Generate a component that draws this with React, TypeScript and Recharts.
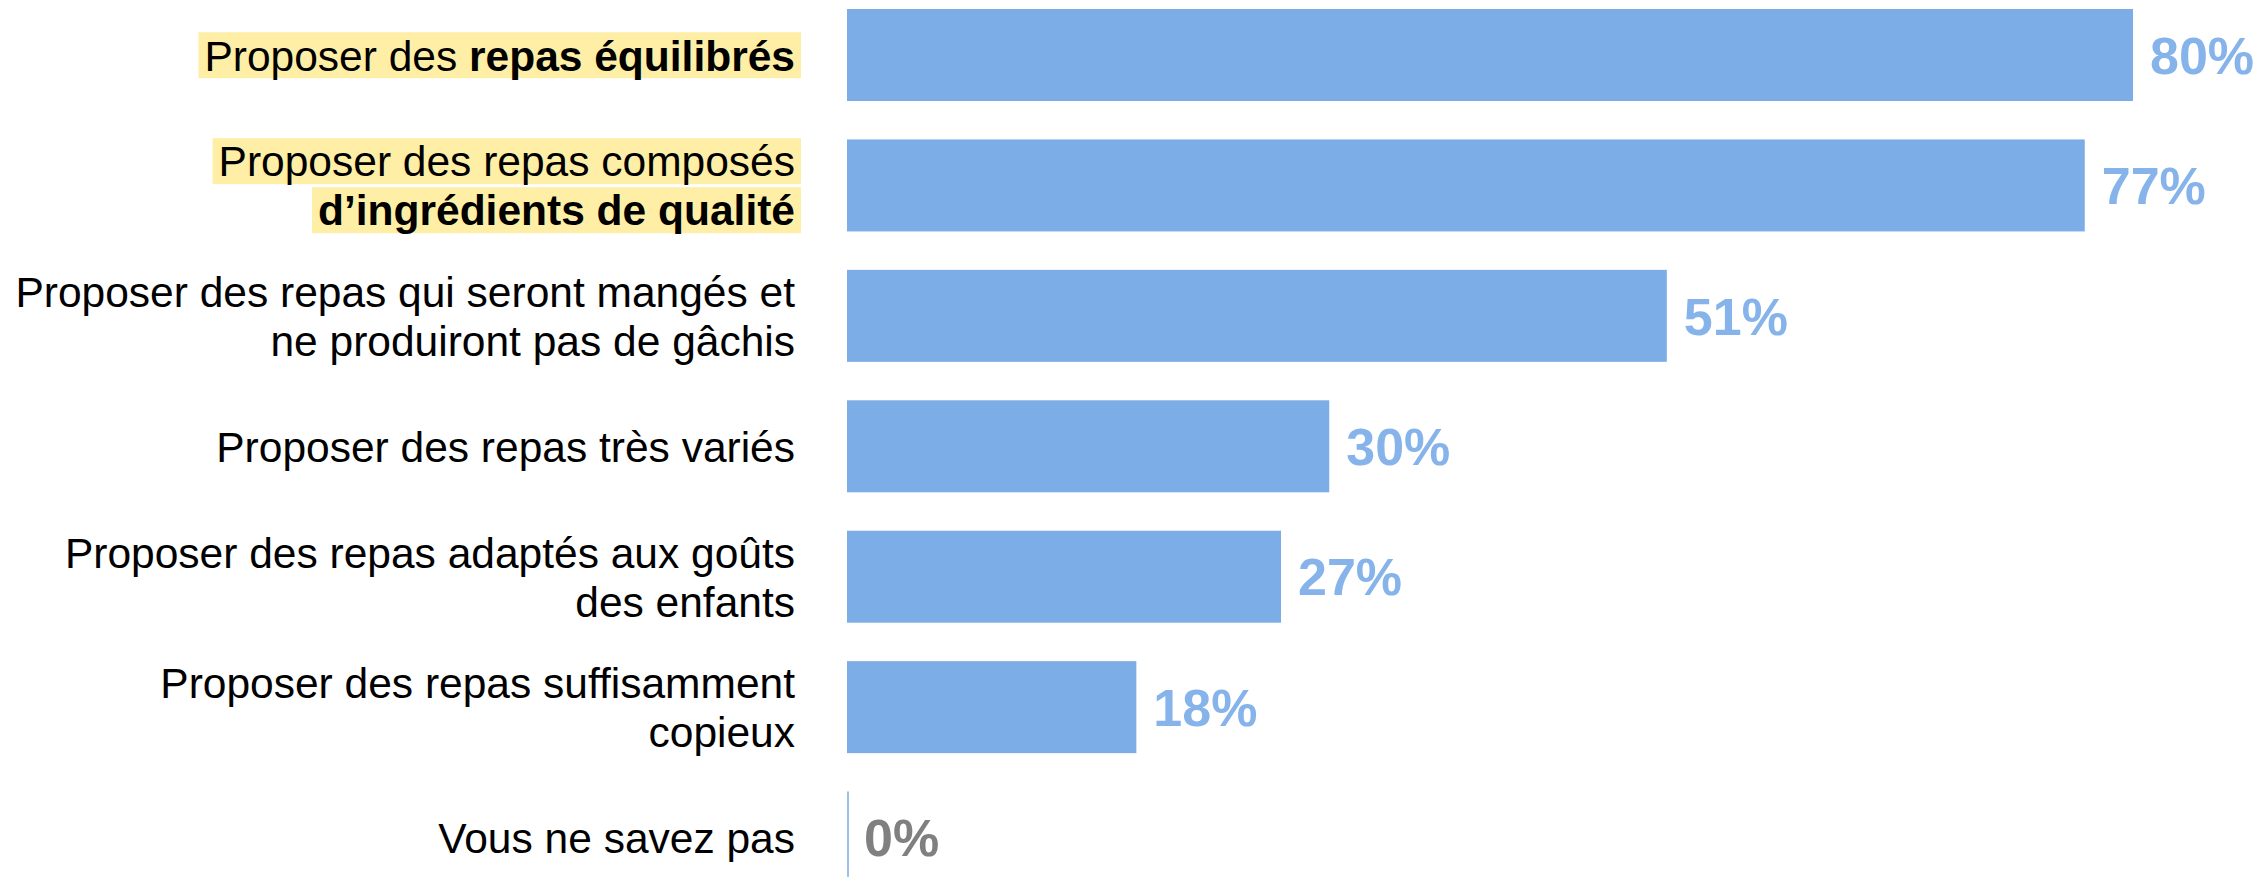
import React from "react";
import { BarChart, Bar, XAxis, YAxis, LabelList } from "recharts";

// categories, top to bottom
const categories = [
  "Proposer des repas équilibrés",
  "Proposer des repas composés d’ingrédients de qualité",
  "Proposer des repas qui seront mangés et ne produiront pas de gâchis",
  "Proposer des repas très variés",
  "Proposer des repas adaptés aux goûts des enfants",
  "Proposer des repas suffisamment copieux",
  "Vous ne savez pas",
];

const values = [80, 77, 51, 30, 27, 18, 0];

// tick label lines: [text, bold] segments per line
const tickLines: [string, boolean][][][] = [
  [[["Proposer des ", false], ["repas équilibrés", true]]],
  [
    [["Proposer des repas composés", false]],
    [["d’ingrédients de qualité", true]],
  ],
  [
    [["Proposer des repas qui seront mangés et", false]],
    [["ne produiront pas de gâchis", false]],
  ],
  [[["Proposer des repas très variés", false]]],
  [
    [["Proposer des repas adaptés aux goûts", false]],
    [["des enfants", false]],
  ],
  [
    [["Proposer des repas suffisamment", false]],
    [["copieux", false]],
  ],
  [[["Vous ne savez pas", false]]],
];

const highlighted = [true, true, false, false, false, false, false];

const data = categories.map((name, i) => ({ name, value: values[i] }));

const FONT = '"Liberation Sans", Arial, sans-serif';
const TICK_SIZE = 42.5;
const BAR_COLOR = "#7DADE6";

let ctx: CanvasRenderingContext2D | null = null;
function measure(text: string, bold: boolean) {
  if (!ctx) ctx = document.createElement("canvas").getContext("2d");
  if (!ctx) return text.length * TICK_SIZE * 0.5;
  ctx.font = `${bold ? "bold" : "normal"} ${TICK_SIZE}px ${FONT}`;
  return ctx.measureText(text).width;
}

function CategoryTick(props: any) {
  const { x, y, payload } = props;
  const idx = categories.indexOf(payload.value);
  const lines = tickLines[idx] || [];
  const lineH = 49;
  const right = x - 52;
  const y0 = y - ((lines.length - 1) * lineH) / 2;
  return (
    <g>
      {lines.map((segs, li) => {
        const cy = y0 + li * lineH;
        const w = segs.reduce((s, [t, b]) => s + measure(t, b), 0);
        return (
          <g key={li}>
            {highlighted[idx] && (
              <rect x={right - w - 6} y={cy - 23} width={w + 12} height={46} fill="#FFEFA6" />
            )}
            <text x={right} y={cy} dy="0.36em" textAnchor="end" fontFamily={FONT} fontSize={TICK_SIZE} fill="#000">
              {segs.map(([t, b], si) => (
                <tspan key={si} fontWeight={b ? "bold" : "normal"}>
                  {t}
                </tspan>
              ))}
            </text>
          </g>
        );
      })}
    </g>
  );
}

function BarShape(props: any) {
  const { x, y, width, height } = props;
  if (!width || width < 1) {
    return <line x1={x + 1} x2={x + 1} y1={y} y2={y + height} stroke="#9DC0EC" strokeWidth={2} />;
  }
  return <rect x={x} y={y} width={width} height={height} fill={BAR_COLOR} />;
}

function ValueLabel(props: any) {
  const { x, y, width, height, value } = props;
  return (
    <text
      x={x + width + 17}
      y={y + height / 2}
      dy="0.36em"
      fontFamily={FONT}
      fontWeight="bold"
      fontSize={52}
      fill={value === 0 ? "#808080" : "#86B4EA"}
    >
      {value}%
    </text>
  );
}

export default function App() {
  return (
    <div style={{ position: "absolute", left: 0, top: 0, width: 2263, height: 877, overflow: "hidden", background: "#fff" }}>
      <div style={{ marginTop: -10 }}>
        <BarChart
          width={2263}
          height={913}
          data={data}
          layout="vertical"
          margin={{ top: 0, right: 130, bottom: 0, left: 0 }}
        >
          <XAxis type="number" domain={[0, 80]} hide />
          <YAxis
            type="category"
            dataKey="name"
            width={847}
            axisLine={false}
            tickLine={false}
            tickSize={0}
            tickMargin={0}
            interval={0}
            tick={<CategoryTick />}
          />
          <Bar dataKey="value" barSize={92} shape={<BarShape />} isAnimationActive={false}>
            <LabelList dataKey="value" content={<ValueLabel />} />
          </Bar>
        </BarChart>
      </div>
    </div>
  );
}
